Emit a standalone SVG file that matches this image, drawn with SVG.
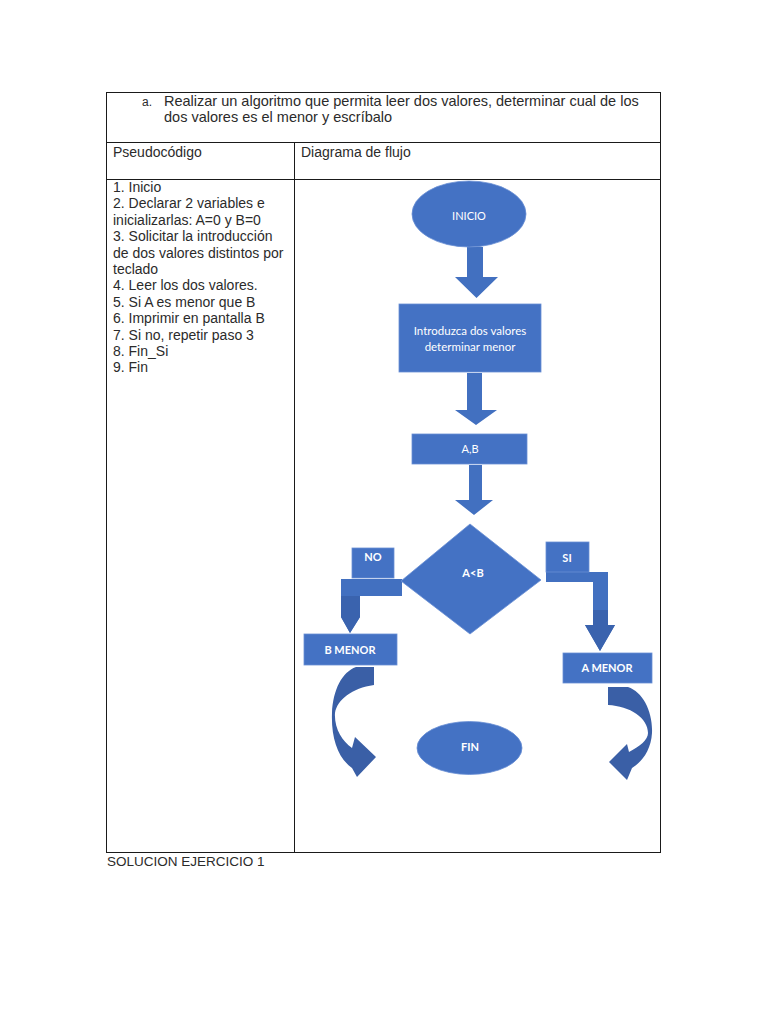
<svg xmlns="http://www.w3.org/2000/svg" width="768" height="1024" viewBox="0 0 768 1024">
<style>
.doc{font-family:"Liberation Sans",Arial,sans-serif;font-size:14px;fill:#2b2b2b}
.hd{font-size:14.5px}
.grid{stroke:#1a1a1a;stroke-width:1;fill:none}
.node{fill:#4472c4;stroke:#6a8fd4;stroke-width:0.8}
.lbl{font-family:Lato,"Open Sans",sans-serif;font-size:11px;fill:#ffffff;text-anchor:middle;dominant-baseline:central}
.b{font-weight:bold}
.arr{fill:#4270c0}
.dark{fill:#3a63ae}
.curve{fill:#3a5fa6}
</style>
<rect width="768" height="1024" fill="#ffffff"/>
<g id="table">
<rect class="grid" x="106.5" y="92.5" width="554" height="760"/>
<line class="grid" x1="106.5" y1="142.5" x2="660.5" y2="142.5"/>
<line class="grid" x1="106.5" y1="179.5" x2="660.5" y2="179.5"/>
<line class="grid" x1="294.5" y1="142.5" x2="294.5" y2="852.5"/>
</g>
<g id="texts">
<text class="doc" x="142" y="106" style="font-size:12px">a.</text>
<text class="doc hd" x="164" y="106">Realizar un algoritmo que permita leer dos valores, determinar cual de los</text>
<text class="doc hd" x="164" y="122">dos valores es el menor y escríbalo</text>
<text class="doc" x="113" y="157">Pseudocódigo</text>
<text class="doc" x="301" y="157">Diagrama de flujo</text>
<text class="doc" x="113" y="192">1. Inicio</text>
<text class="doc" x="113" y="208.4">2. Declarar 2 variables e</text>
<text class="doc" x="113" y="224.8">inicializarlas: A=0 y B=0</text>
<text class="doc" x="113" y="241.2">3. Solicitar la introducción</text>
<text class="doc" x="113" y="257.6">de dos valores distintos por</text>
<text class="doc" x="113" y="274">teclado</text>
<text class="doc" x="113" y="290.4">4. Leer los dos valores.</text>
<text class="doc" x="113" y="306.8">5. Si A es menor que B</text>
<text class="doc" x="113" y="323.2">6. Imprimir en pantalla B</text>
<text class="doc" x="113" y="339.6">7. Si no, repetir paso 3</text>
<text class="doc" x="113" y="356">8. Fin_Si</text>
<text class="doc" x="113" y="372.4">9. Fin</text>
<text class="doc" x="107" y="866" style="font-size:13.5px">SOLUCION EJERCICIO 1</text>
</g>
<g id="connectors">
<polygon class="arr" points="467,247 483,247 483,277 498,277 476.5,298 455,277 467,277"/>
<polygon class="arr" points="467,373 482,373 482,410 497,410 476,425 455,410 467,410"/>
<polygon class="arr" points="469,465 482,465 482,500 493,500 474,515 455,500 469,500"/>
<polygon class="arr" points="341,579 402,579 402,596 360,596 360,617 350,633 341,617"/>
<polygon class="dark" points="341,596 360,596 360,617 350,633 341,617"/>
<polygon class="arr" points="546,572 608,572 608,625 615,625 600,651 585,625 593,625 593,582 546,582"/>
<polygon class="dark" points="593,610 608,610 608,625 615,625 600,651 585,625 593,625"/>
<path class="curve" d="M 356,667 L 374,667 L 374,685 C 352,688 337,700 335,713 C 334,728 342,741 352,748 L 355,737 L 376,757 L 357,777 L 352,768 C 338,758 331,738 332,713 C 333,690 342,672 356,667 Z"/>
<path class="curve" d="M 608,687 L 628,687 C 643,692 653,712 652,733 C 651,750 642,762 632,768 L 627,780 L 609,762 L 627,744 L 629,752 C 640,746 648,740 648,733 C 648,718 630,706 608,705 Z"/>
</g>
<g id="inicio">
<ellipse class="node" cx="469" cy="214" rx="57" ry="33"/>
<text class="lbl" x="469" y="215">INICIO</text>
</g>
<g id="introduzca">
<rect class="node" x="399" y="304" width="142" height="68"/>
<text class="lbl" x="470" y="330" style="font-size:11.5px">Introduzca dos valores</text>
<text class="lbl" x="470" y="346" style="font-size:11.5px">determinar menor</text>
</g>
<g id="ab">
<rect class="node" x="412" y="434" width="115" height="30"/>
<text class="lbl" x="470" y="448">A,B</text>
</g>
<g id="decision">
<polygon class="node" points="470,524 541,580 470,634 401,581"/>
<text class="lbl b" x="473" y="572">A&lt;B</text>
</g>
<g id="no">
<rect class="node" x="352" y="548" width="42" height="30"/>
<text class="lbl b" x="373" y="556">NO</text>
</g>
<g id="si">
<rect class="node" x="546" y="542" width="43" height="30"/>
<text class="lbl b" x="567" y="557">SI</text>
</g>
<g id="bmenor">
<rect class="node" x="304" y="634" width="93" height="31"/>
<text class="lbl b" x="350" y="649">B MENOR</text>
</g>
<g id="amenor">
<rect class="node" x="563" y="653" width="89" height="30"/>
<text class="lbl b" x="607" y="667">A MENOR</text>
</g>
<g id="fin">
<ellipse class="node" cx="469.5" cy="748" rx="52.5" ry="26.5"/>
<text class="lbl b" x="470" y="746">FIN</text>
</g>
</svg>
